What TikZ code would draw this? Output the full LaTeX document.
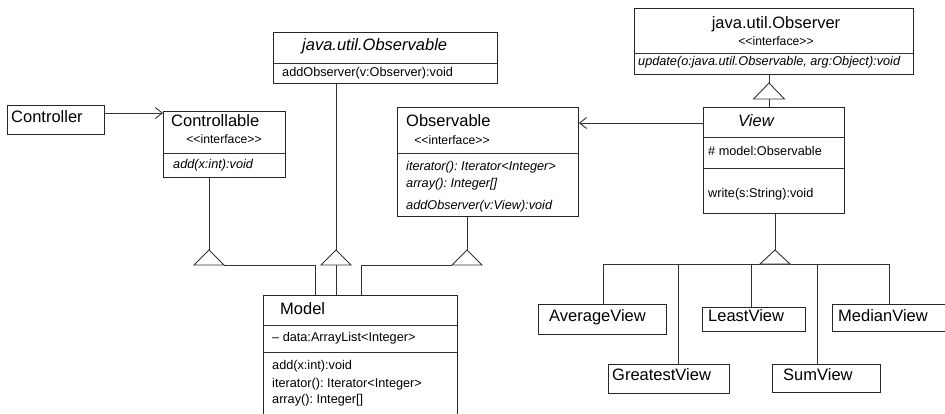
\documentclass[tikz,border=0pt]{standalone}
\usepackage{fontspec}
\setmainfont{Liberation Sans}
\usetikzlibrary{arrows.meta,calc}
\newcommand{\iftxt}{<{}<interface>{}>}
\tikzset{
  ln/.style={draw=black!80, line width=0.9pt},
  box/.style={draw=black!85, line width=0.9pt, inner sep=0pt, anchor=north west, rectangle, fill=white},
  big/.style={inner sep=0pt, anchor=mid west, font=\frenchspacing\fontsize{16.5}{19}\selectfont},
  bigit/.style={big, font=\frenchspacing\fontsize{16.5}{19}\selectfont\itshape},
  sm/.style={inner sep=0pt, anchor=mid west, font=\frenchspacing\fontsize{12.7}{15}\selectfont},
  smit/.style={sm, font=\frenchspacing\fontsize{12.7}{15}\selectfont\itshape},
  iface/.style={inner sep=0pt, anchor=mid, font=\fontsize{12.2}{14}\selectfont},
  opena/.style={-{Straight Barb[length=7pt,width=11pt]}},
  gen/.style={ln, fill=white}
}
\begin{document}
\begin{tikzpicture}[x=1pt,y=-1pt]
\useasboundingbox (0,0) rectangle (945,413);
\clip (0,0) rectangle (945,413);

% ---------- Controller ----------
\node[box, minimum width=97pt, minimum height=29pt] (controller) at (7,105) {};
\node[big] (controllerT) at (11,120) {Controller};

% ---------- Controllable ----------
\node[box, minimum width=122pt, minimum height=66pt] (ctrl) at (163,111) {};
\node[big] (ctrlT) at (171,124) {Controllable};
\node[iface] (ctrlI) at (224,141) {\iftxt};
\draw[ln] (163,153) -- (285,153);
\node[smit] (ctrlM) at (173,166) {add(x:int):void};

% ---------- java.util.Observable ----------
\node[box, minimum width=224pt, minimum height=51pt] (jobs) at (273,32) {};
\node[bigit] (jobsT) at (302,48) {java.util.Observable};
\draw[ln] (273,63) -- (497,63);
\node[sm] (jobsM) at (282,74) {addObserver(v:Observer):void};

% ---------- Observable interface ----------
\node[box, minimum width=181pt, minimum height=109pt] (obs) at (397,107) {};
\node[big] (obsT) at (406,124) {Observable};
\node[iface] (obsI) at (452,142) {\iftxt};
\draw[ln] (397,153) -- (578,153);
\node[smit] (obsM1) at (406,168) {iterator(): Iterator<Integer>};
\node[smit] (obsM2) at (406,185) {array(): Integer[]};
\node[smit] (obsM3) at (406,207) {addObserver(v:View):void};

% ---------- java.util.Observer ----------
\node[box, minimum width=279pt, minimum height=66pt] (jobr) at (634,8) {};
\node[big, anchor=mid] (jobrT) at (776,26) {java.util.Observer};
\node[iface] (jobrI) at (776,43) {\iftxt};
\draw[ln] (634,53) -- (913,53);
\node[smit] (jobrM) at (638,63) {update(o:java.util.Observable, arg:Object):void};

% ---------- View ----------
\node[box, minimum width=141pt, minimum height=106pt] (view) at (703,107) {};
\node[bigit] (viewT) at (738,124) {View};
\draw[ln] (703,137) -- (844,137);
\node[sm] (viewA) at (708,153) {\# model:Observable};
\draw[ln] (703,168) -- (844,168);
\node[sm] (viewM) at (708,195) {write(s:String):void};

% ---------- Model ----------
\node[box, minimum width=194pt, minimum height=140pt] (model) at (263,295) {};
\node[big] (modelT) at (280,312) {Model};
\draw[ln] (263,325) -- (457,325);
\node[sm] (modelA) at (272,339) {– data:ArrayList<Integer>};
\draw[ln] (263,352) -- (457,352);
\node[sm] (modelM1) at (272,367) {add(x:int):void};
\node[sm] (modelM2) at (272,385) {iterator(): Iterator<Integer>};
\node[sm] (modelM3) at (272,401) {array(): Integer[]};

% ---------- View subclasses ----------
\node[box, minimum width=128pt, minimum height=30pt] (avg) at (538,304) {};
\node[big] (avgT) at (549,319) {AverageView};
\node[box, minimum width=121pt, minimum height=29pt] (great) at (608,364) {};
\node[big] (greatT) at (612,378) {GreatestView};
\node[box, minimum width=103pt, minimum height=24pt] (least) at (702,307) {};
\node[big] (leastT) at (708,319) {LeastView};
\node[box, minimum width=108pt, minimum height=28pt] (sum) at (772,364) {};
\node[big] (sumT) at (783,378) {SumView};
\node[box, minimum width=130pt, minimum height=27pt] (median) at (832,304) {};
\node[big] (medianT) at (838,319) {MedianView};

% ---------- helper coordinates ----------
\coordinate (a1) at (0,113);
\coordinate (a2) at (0,123);
\coordinate (t1) at (209,250);
\coordinate (t2) at (336,250);
\coordinate (t3) at (467,250);
\coordinate (t4) at (769,83);
\coordinate (t5) at (775,250);
\coordinate (m1) at (315,295);
\coordinate (m2) at (336,295);
\coordinate (m3) at (361,295);
\coordinate (hb) at (0,264);
\coordinate (xa) at (603,0);
\coordinate (xg) at (678,0);
\coordinate (xl) at (751,0);
\coordinate (xs) at (817,0);
\coordinate (xm) at (889,0);

% ---------- associations ----------
\draw[ln, opena] (controller.east |- a1) -- (ctrl.west |- a1);
\draw[ln, opena] (view.west |- a2) -- (obs.east |- a2);

% ---------- generalisations to Model ----------
\draw[ln] (ctrl.south -| t1) -- (t1);
\draw[ln] ($(t1)+(15,15)$) -| (m1);
\draw[gen] (t1) -- ++(-15,15) -- ++(30,0) -- cycle;

\draw[ln] (jobs.south -| t2) -- (t2);
\draw[ln] ($(t2)+(0,15)$) -- (m2);
\draw[gen] (t2) -- ++(-15,15) -- ++(30,0) -- cycle;

\draw[ln] (obs.south -| t3) -- (t3);
\draw[ln] ($(t3)+(-15,15)$) -| (m3);
\draw[gen] (t3) -- ++(-15,15) -- ++(30,0) -- cycle;

% ---------- View implements Observer ----------
\draw[ln] (jobr.south -| t4) -- (t4);
\draw[ln] ($(t4)+(0,16)$) -- (view.north -| t4);
\draw[gen] (t4) -- ++(-15.5,16) -- ++(31,0) -- cycle;

% ---------- View subclasses ----------
\draw[ln] (view.south -| t5) -- (t5);
\draw[ln] (avg.north -| xa) |- (hb -| xm) -- (median.north -| xm);
\draw[ln] (great.north -| xg) -- (hb -| xg);
\draw[ln] (least.north -| xl) -- (hb -| xl);
\draw[ln] (sum.north -| xs) -- (hb -| xs);
\draw[gen] (t5) -- ++(-15,14) -- ++(30,0) -- cycle;
\end{tikzpicture}
\end{document}
